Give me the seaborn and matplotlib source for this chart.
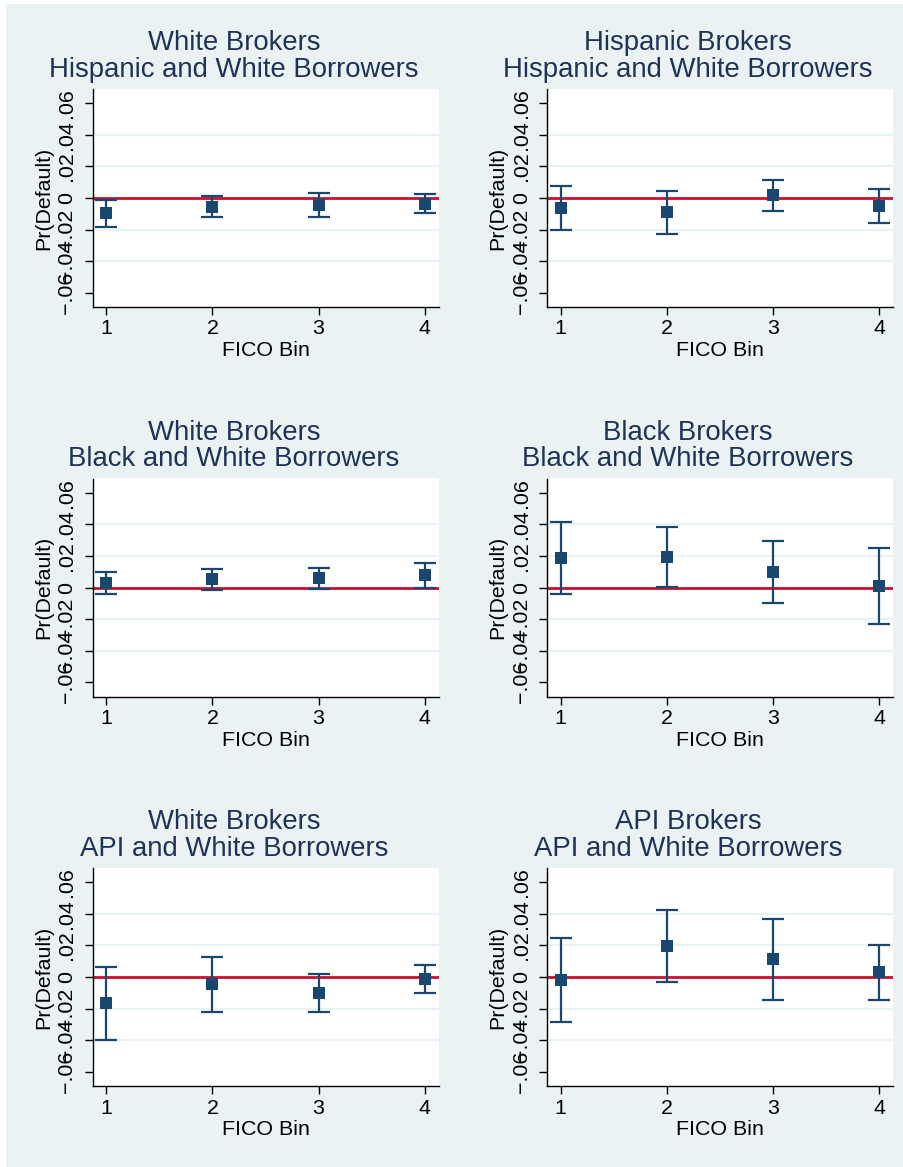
import numpy as np
import pandas as pd
import matplotlib
matplotlib.use("Agg")
import matplotlib.pyplot as plt
import seaborn as sns
from matplotlib.patches import Rectangle

# ---- data -------------------------------------------------------------
fico_bins = [1, 2, 3, 4]
ytick_values = [-0.06, -0.04, -0.02, 0.0, 0.02, 0.04, 0.06]
ytick_labels = ["\u2212.06", "\u2212.04", "\u2212.02", "0", ".02", ".04", ".06"]

broker_titles = ["White Brokers", "Hispanic Brokers",
                 "White Brokers", "Black Brokers",
                 "White Brokers", "API Brokers"]
borrower_titles = ["Hispanic and White Borrowers", "Hispanic and White Borrowers",
                   "Black and White Borrowers", "Black and White Borrowers",
                   "API and White Borrowers", "API and White Borrowers"]

# point estimates with lower / upper confidence bounds, one list per panel
est_wb_hisp = [-0.0095, -0.0059, -0.0044, -0.0038]
lo_wb_hisp = [-0.0183, -0.0122, -0.0120, -0.0097]
hi_wb_hisp = [-0.0010, 0.0010, 0.0034, 0.0025]

est_hb_hisp = [-0.0063, -0.0088, 0.0017, -0.0053]
lo_hb_hisp = [-0.0204, -0.0225, -0.0082, -0.0160]
hi_hb_hisp = [0.0078, 0.0042, 0.0116, 0.0055]

est_wb_black = [0.0027, 0.0051, 0.0059, 0.0076]
lo_wb_black = [-0.0044, -0.0015, -0.0011, -0.0002]
hi_wb_black = [0.0097, 0.0116, 0.0122, 0.0158]

est_bb_black = [0.0185, 0.0196, 0.0101, 0.0008]
lo_bb_black = [-0.0040, 0.0006, -0.0095, -0.0234]
hi_bb_black = [0.0413, 0.0381, 0.0293, 0.0251]

est_wb_api = [-0.0164, -0.0044, -0.0101, -0.0013]
lo_wb_api = [-0.0400, -0.0219, -0.0223, -0.0099]
hi_wb_api = [0.0065, 0.0124, 0.0019, 0.0074]

est_ab_api = [-0.0021, 0.0196, 0.0112, 0.0029]
lo_ab_api = [-0.0282, -0.0034, -0.0143, -0.0143]
hi_ab_api = [0.0246, 0.0427, 0.0368, 0.0202]

panels = [
    (est_wb_hisp, lo_wb_hisp, hi_wb_hisp),
    (est_hb_hisp, lo_hb_hisp, hi_hb_hisp),
    (est_wb_black, lo_wb_black, hi_wb_black),
    (est_bb_black, lo_bb_black, hi_bb_black),
    (est_wb_api, lo_wb_api, hi_wb_api),
    (est_ab_api, lo_ab_api, hi_ab_api),
]

# ---- style ------------------------------------------------------------
BG = "#EAF2F3"
NAVY = "#1A476F"
RED = "#C8102E"
TITLE_C = "#1F3257"

sns.set_theme(style="white")
plt.rcParams["font.family"] = ["Liberation Sans", "DejaVu Sans"]
plt.rcParams["axes.unicode_minus"] = True

W, H = 904, 1167
fig = plt.figure(figsize=(W / 100, H / 100), dpi=100, facecolor="white")
fig.patches.append(Rectangle((6 / W, 0), 1 - 6 / W, 1 - 4 / H,
                             transform=fig.transFigure, facecolor=BG,
                             edgecolor="none", zorder=-10))

col_left = [93, 547.3]
col_width = 346
row_top = [89, 478.5, 868]
ax_height = 218
title_center = [234, 688]

TICK_FS = 15.4
TITLE_FS = 19.8

for i, (est, lo, hi) in enumerate(panels):
    r, c = divmod(i, 2)
    left = col_left[c] / W
    bottom = 1 - (row_top[r] + ax_height) / H
    ax = fig.add_axes([left, bottom, col_width / W, ax_height / H])
    ax.set_facecolor("white")

    df = pd.DataFrame({"fico": fico_bins, "est": est, "lo": lo, "hi": hi})

    for g in [-0.04, -0.02, 0.02, 0.04]:
        ax.axhline(g, color=BG, lw=1.6, zorder=0)
    ax.axhline(0, color=RED, lw=2.0, zorder=1)

    yerr = np.vstack([df["est"] - df["lo"], df["hi"] - df["est"]])
    ax.errorbar(df["fico"], df["est"], yerr=yerr, fmt="none", ecolor=NAVY,
                elinewidth=1.6, capsize=8, capthick=1.6, zorder=2)
    sns.scatterplot(data=df, x="fico", y="est", marker="s", s=78, color=NAVY,
                    edgecolor=NAVY, linewidth=0, ax=ax, zorder=3, legend=False)

    ax.set_xlim(0.875, 4.135)
    ax.set_ylim(-0.069, 0.069)
    ax.set_xticks(fico_bins)
    ax.set_xticklabels([str(v) for v in fico_bins], fontsize=TICK_FS)
    ax.set_yticks(ytick_values)
    ax.set_yticklabels(ytick_labels, fontsize=TICK_FS, rotation=90, va="center")

    for s in ["top", "right"]:
        ax.spines[s].set_visible(False)
    for s in ["left", "bottom"]:
        ax.spines[s].set_color("black")
        ax.spines[s].set_linewidth(1.0)
    ax.tick_params(axis="both", direction="out", length=6, width=1,
                   color="black", labelcolor="black", left=True, bottom=True)
    ax.tick_params(axis="x", pad=3)
    ax.tick_params(axis="y", pad=6)

    ax.set_xlabel("FICO Bin", fontsize=TICK_FS, color="black", labelpad=2)
    ax.set_ylabel("Pr(Default)", fontsize=TICK_FS, color="black", labelpad=3)

    y1 = 50 + r * 389.5
    y2 = 77 + r * 389.5
    fig.text(title_center[c] / W, 1 - y1 / H, broker_titles[i], ha="center",
             va="baseline", fontsize=TITLE_FS, color=TITLE_C)
    fig.text(title_center[c] / W, 1 - y2 / H, borrower_titles[i], ha="center",
             va="baseline", fontsize=TITLE_FS, color=TITLE_C)

fig.savefig("out.png", dpi=100, facecolor=fig.get_facecolor())
